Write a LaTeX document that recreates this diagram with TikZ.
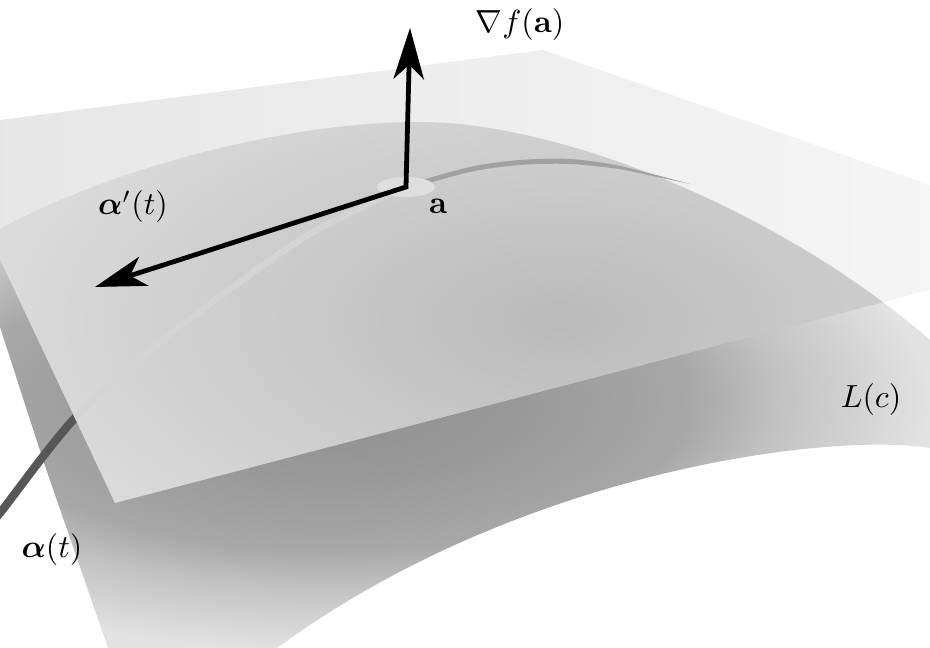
\documentclass[tikz,border=0pt]{standalone}
\usepackage{amsmath,amssymb}
\usepackage{tikz}
\usetikzlibrary{arrows.meta}

\definecolor{surfdark}{gray}{0.565}
\definecolor{surfmid}{gray}{0.596}
\definecolor{surfside}{gray}{0.655}
\definecolor{surflight}{gray}{0.760}
\definecolor{surfedge}{gray}{0.886}
\definecolor{underdark}{gray}{0.730}
\definecolor{underlight}{gray}{0.865}

\pgfdeclareradialshading{surfshade}{\pgfpointorigin}{color(0bp)=(surfdark); color(7.5bp)=(surfmid); color(15bp)=(surfside); color(18.75bp)=(surflight); color(25bp)=(surfedge); color(50bp)=(surfedge)}
\pgfdeclareradialshading{undershade}{\pgfpointorigin}{color(0bp)=(underdark); color(25bp)=(underlight); color(50bp)=(underlight)}

\newcommand{\surfacepath}{(-0.25,4.07) -- (0,4.19) .. controls (1.20,4.83) and (2.90,5.26) .. (4.20,5.26) .. controls (5.60,5.26) and (7.80,4.38) .. (9.30,3.08) -- (9.70,2.76) -- (9.70,1.93) -- (9.30,2.00) .. controls (8.30,2.16) and (5.20,1.78) .. (2.77,0.00) -- (2.30,-0.32) -- (1.18,-0.32) -- (1.08,0) -- (0.43,1.88) -- (0,3.21) -- cycle}
\newcommand{\planepath}{(-0.62,5.20) -- (5.43,5.98) -- (11.02,4.03) -- (1.15,1.45) -- cycle}
\newcommand{\alphacurve}{plot[smooth] coordinates {(-0.20,1.13) (0,1.35) (0.75,2.30) (1.67,3.11) (3.00,4.08) (4.05,4.61)}}

\begin{document}
\begin{tikzpicture}[x=1.1cm,y=1.1cm,
  vecarrows/.style={line width=1.5pt,{Stealth[length=16pt,width=9.5pt,inset=4.5pt]}-{Stealth[length=16pt,width=9.5pt,inset=4.5pt]}}]
\useasboundingbox (0,0) rectangle (9.3,6.48);
\clip (0,0) rectangle (9.3,6.48);
% tangent plane
\shade[left color=black!10, right color=black!3] \planepath;
% level surface
\begin{scope}
\clip \surfacepath;
\shade[shading=surfshade] (-2.7,-0.02) rectangle (9.3,4.98);
\end{scope}
\draw[line width=2.6pt, black!66] \alphacurve;
% surface under the plane
\begin{scope}
\clip \surfacepath;
\clip \planepath;
\shade[shading=undershade] (-0.4,0.28) rectangle (11.6,6.28);
\draw[line width=2pt, black!17] \alphacurve;
\end{scope}
\fill[black!37] plot[smooth] coordinates {(4.05,4.63) (4.70,4.81) (5.20,4.88) (5.70,4.89) (6.20,4.82) (6.90,4.64)} -- plot[smooth] coordinates {(6.20,4.79) (5.70,4.84) (5.20,4.83) (4.70,4.76) (4.05,4.58)} -- cycle;
% point and vectors
\coordinate (a) at (4.06,4.61);
\coordinate (grad) at (4.10,6.20);
\coordinate (tang) at (0.95,3.61);
\fill[black!13] (a) ellipse [x radius=0.29, y radius=0.10];
\draw[vecarrows] (grad) -- (a) -- (tang);
\node (gradlabel) at (5.20,6.23) {$\nabla f(\mathbf{a})$};
\node (alabel) at (4.38,4.42) {$\mathbf{a}$};
\node (tanglabel) at (1.33,4.41) {$\boldsymbol{\alpha}'(t)$};
\node (curvelabel) at (0.52,0.98) {$\boldsymbol{\alpha}(t)$};
\node (surflabel) at (8.71,2.48) {$L(c)$};
\end{tikzpicture}
\end{document}
